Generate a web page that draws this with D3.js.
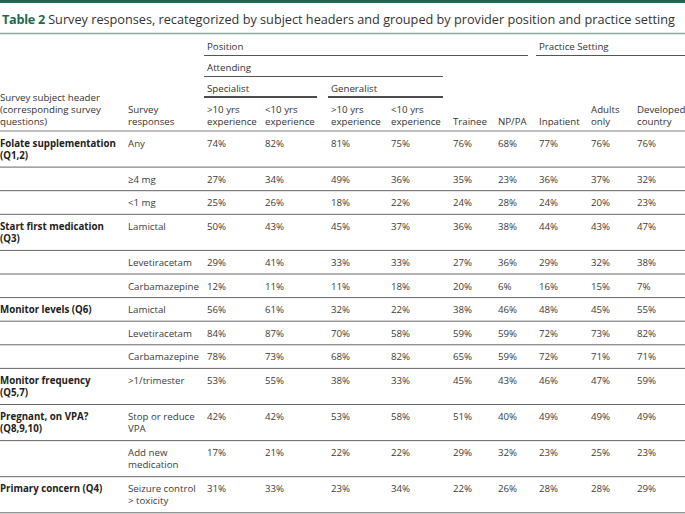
<!DOCTYPE html>
<html>
<head>
<meta charset="utf-8">
<script src="https://cdn.jsdelivr.net/npm/d3@7"></script>
<style>
  html, body { margin: 0; padding: 0; background: #fff; }
  svg { display: block; font-family: "Open Sans", sans-serif; }
</style>
</head>
<body>
<div id="chart"></div>
<script>
// ---------- DATA ----------
const titleLabel = "Table 2";
const titleText = "Survey responses, recategorized by subject headers and grouped by provider position and practice setting";

const subjectHeaders = [
  ["Folate supplementation", "(Q1,2)"], [], [],
  ["Start first medication", "(Q3)"], [], [],
  ["Monitor levels (Q6)"], [], [],
  ["Monitor frequency", "(Q5,7)"],
  ["Pregnant, on VPA?", "(Q8,9,10)"], [],
  ["Primary concern (Q4)"]
];
const responses = [
  ["Any"], ["≥4 mg"], ["<1 mg"],
  ["Lamictal"], ["Levetiracetam"], ["Carbamazepine"],
  ["Lamictal"], ["Levetiracetam"], ["Carbamazepine"],
  [">1/trimester"],
  ["Stop or reduce", "VPA"], ["Add new", "medication"],
  ["Seizure control", "> toxicity"]
];
const rowLines = [2, 1, 1, 2, 1, 1, 1, 1, 1, 2, 2, 2, 2];

const columnKeys = ["spec10", "specLt10", "gen10", "genLt10", "trainee", "nppa", "inpatient", "adults", "developed"];
const columnHeaders = [
  [">10 yrs", "experience"], ["<10 yrs", "experience"],
  [">10 yrs", "experience"], ["<10 yrs", "experience"],
  ["Trainee"], ["NP/PA"], ["Inpatient"], ["Adults", "only"], ["Developed", "country"]
];
const spec10    = [74, 27, 25, 50, 29, 12, 56, 84, 78, 53, 42, 17, 31];
const specLt10  = [82, 34, 26, 43, 41, 11, 61, 87, 73, 55, 42, 21, 33];
const gen10     = [81, 49, 18, 45, 33, 11, 32, 70, 68, 38, 53, 22, 23];
const genLt10   = [75, 36, 22, 37, 33, 18, 22, 58, 82, 33, 58, 22, 34];
const trainee   = [76, 35, 24, 36, 27, 20, 38, 59, 65, 45, 51, 29, 22];
const nppa      = [68, 23, 28, 38, 36, 6, 46, 59, 59, 43, 40, 32, 26];
const inpatient = [77, 36, 24, 44, 29, 16, 48, 72, 72, 46, 49, 23, 28];
const adults    = [76, 37, 20, 43, 32, 15, 45, 73, 71, 47, 49, 25, 28];
const developed = [76, 32, 23, 47, 38, 7, 55, 82, 71, 59, 49, 23, 29];

const groupHeaders = [
  { label: "Position", from: "spec10", to: "nppa", level: 0 },
  { label: "Practice Setting", from: "inpatient", to: "developed", level: 0 },
  { label: "Attending", from: "spec10", to: "genLt10", level: 1 },
  { label: "Specialist", from: "spec10", to: "specLt10", level: 2 },
  { label: "Generalist", from: "gen10", to: "genLt10", level: 2 }
];

// ---------- LAYOUT ----------
const W = 685, H = 514;
const seriesValues = { spec10, specLt10, gen10, genLt10, trainee, nppa, inpatient, adults, developed };
const allCols = ["subject", "response", ...columnKeys];
const x = d3.scaleOrdinal().domain(allCols).range([0, 128, 207, 265, 331, 391, 453, 498, 539, 591, 637]);
const groupEnd = d3.scaleOrdinal().domain(["specLt10", "genLt10", "nppa", "developed"]).range([317, 443, 528, 685]);

const fs = 9.7, ls = 0, lh = 12;
const singleH = 23.6, doubleH = 36.1;
const bodyTop = 131;
const rowTops = [];
let acc = bodyTop;
rowLines.forEach(n => { rowTops.push(acc); acc += n === 2 ? doubleH : singleH; });

const svg = d3.select("#chart").append("svg").attr("width", W).attr("height", H);

// top bar
svg.append("rect").attr("x", 0).attr("y", 0).attr("width", W).attr("height", 3).attr("fill", "#1f6a4e");
// title
const t = svg.append("text").attr("x", 2).attr("y", 24).attr("font-size", 12.7).attr("fill", "#333");
t.append("tspan").attr("font-weight", 700).attr("fill", "#1f6a4e").attr("letter-spacing", -0.3).text(titleLabel);
t.append("tspan").text(" " + titleText);
svg.append("line").attr("x1", 0).attr("x2", W).attr("y1", 33.5).attr("y2", 33.5).attr("stroke", "#8aa79c").attr("stroke-width", 1.5);

function txt(sel, s, x0, y0, opts = {}) {
  return sel.append("text").attr("x", x0).attr("y", y0)
    .attr("font-size", fs).attr("letter-spacing", ls)
    .attr("fill", opts.fill || "#333").attr("font-weight", opts.bold ? 700 : 400).text(s);
}

// group headers
const levelY = [50, 71, 92];
const levelLineY = [55.5, 76.5, 97];
groupHeaders.forEach(g => {
  const x0 = x(g.from);
  const x1 = groupEnd(g.to);
  txt(svg, g.label, x0, levelY[g.level]);
  svg.append("line").attr("x1", x0 - 3).attr("x2", x1).attr("y1", levelLineY[g.level]).attr("y2", levelLineY[g.level])
    .attr("stroke", g.level === 2 ? "#111" : "#555").attr("stroke-width", g.level === 2 ? 1.3 : 1);
});

// column header
function multiline(sel, lines, x0, yBottom) {
  const n = lines.length;
  lines.forEach((s, i) => txt(sel, s, x0, yBottom - (n - 1 - i) * lh));
}
multiline(svg, ["Survey subject header", "(corresponding survey", "questions)"], x("subject"), 125);
multiline(svg, ["Survey", "responses"], x("response"), 125);
columnKeys.forEach((k, i) => multiline(svg, columnHeaders[i], x(k), 125));
svg.append("line").attr("x1", 0).attr("x2", W).attr("y1", bodyTop).attr("y2", bodyTop).attr("stroke", "#aaa").attr("stroke-width", 1.5);

// body rows
const rows = svg.append("g").selectAll("g").data(rowLines).join("g")
  .attr("transform", (d, i) => `translate(0,${rowTops[i]})`);
rows.each(function (n, i) {
  const g = d3.select(this);
  const base = 15.5;
  subjectHeaders[i].forEach((s, j) => txt(g, s, x("subject"), base + j * lh, { bold: true, fill: "#222" }));
  responses[i].forEach((s, j) => txt(g, s, x("response"), base + j * lh, { fill: "#3c3c3c" }));
  columnKeys.forEach(k => txt(g, seriesValues[k][i] + "%", x(k), base, { fill: "#3c3c3c" }));
  const h = n === 2 ? doubleH : singleH;
  g.append("line").attr("x1", 0).attr("x2", W).attr("y1", h).attr("y2", h).attr("stroke", "#666").attr("stroke-width", 1);
});
</script>
</body>
</html>
